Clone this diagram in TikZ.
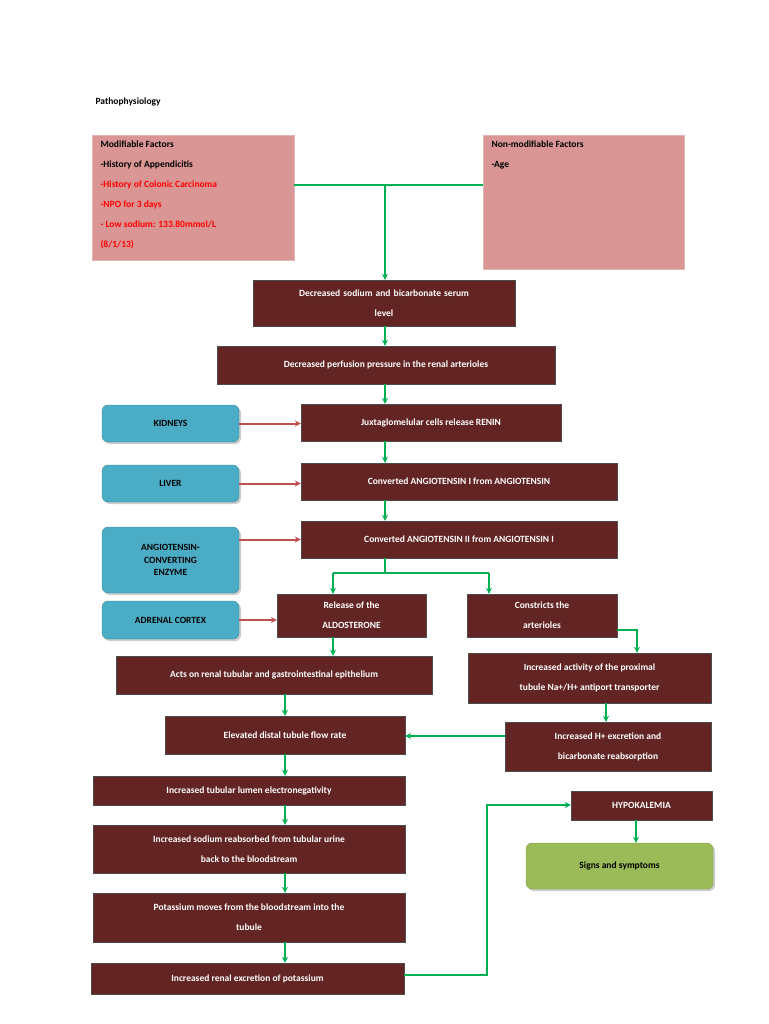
\documentclass[tikz,border=0pt]{standalone}
\usepackage{fontspec}
\setmainfont{Carlito}
\usetikzlibrary{arrows.meta,shadows}
\definecolor{dred}{HTML}{632523}
\definecolor{pinkf}{HTML}{D99694}
\definecolor{blu}{HTML}{4BACC6}
\definecolor{grn}{HTML}{00B050}
\definecolor{lgrn}{HTML}{9BBB59}
\definecolor{rarr}{HTML}{C0504D}
\begin{document}
\begin{tikzpicture}[x=1pt,y=-1pt,
 every node/.style={font=\fontsize{9.5}{12.5}\selectfont},
 dbox/.style={draw=black!70,fill=dred,text=white,font=\fontsize{9.5}{20}\selectfont\bfseries,align=center,inner sep=2pt},
 bbox/.style={draw=blu!80!black,fill=blu,rounded corners=6pt,align=center,font=\fontsize{9.5}{12.5}\selectfont\bfseries,minimum width=137,drop shadow={shadow xshift=2pt,shadow yshift=-2pt,opacity=0.4}},
 pbox/.style={draw=pinkf!70!white,fill=pinkf,align=left,anchor=north west,inner sep=0pt},
 g/.style={draw=grn,line width=2pt,-{Stealth[length=6pt,width=6pt]}},
 gl/.style={draw=grn,line width=2pt},
 r/.style={draw=rarr,line width=2pt,-{Stealth[length=6pt,width=6pt]}}]
\useasboundingbox (0,0) rectangle (768,1024);
\node[anchor=west,font=\fontsize{9.5}{12}\selectfont\bfseries] (title) at (92,102) {Pathophysiology};
\node[pbox,minimum width=202,minimum height=125] (mod) at (92,135) {};
\node[anchor=north west,align=left,font=\fontsize{9.5}{20}\selectfont\bfseries] (modt) at (97,137) {Modifiable Factors\\-History of Appendicitis\\\textcolor{red}{-History of Colonic Carcinoma}\\\textcolor{red}{-NPO for 3 days}\\\textcolor{red}{- Low sodium: 133.80mmol/L}\\\textcolor{red}{(8/1/13)}};
\node[pbox,minimum width=201,minimum height=134] (non) at (483,135) {};
\node[anchor=north west,align=left,font=\fontsize{9.5}{20}\selectfont\bfseries] (nont) at (488,137) {Non-modifiable Factors\\-Age};
\node[dbox,minimum width=262,minimum height=46,text width=240] (b1) at (384,303) {Decreased sodium and bicarbonate serum\\level};
\node[dbox,minimum width=338,minimum height=38] (b2) at (386,365) {Decreased perfusion pressure in the renal arterioles};
\node[dbox,minimum width=260,minimum height=37] (b3) at (431,422.5) {Juxtaglomelular cells release RENIN};
\node[dbox,minimum width=316,minimum height=37] (b4) at (459,481.5) {Converted ANGIOTENSIN I from ANGIOTENSIN};
\node[dbox,minimum width=316,minimum height=37] (b5) at (459,539.5) {Converted ANGIOTENSIN II from ANGIOTENSIN I};
\node[bbox,minimum height=37] (k) at (170.5,423.5) {KIDNEYS};
\node[bbox,minimum height=37] (l) at (170.5,483.5) {LIVER};
\node[bbox,minimum height=66] (ace) at (170.5,560) {ANGIOTENSIN-\\CONVERTING\\ENZYME};
\node[bbox,minimum height=38] (ad) at (170.5,620) {ADRENAL CORTEX};
\node[dbox,minimum width=149,minimum height=43] (b6) at (351.5,615.5) {Release of the\\ALDOSTERONE};
\node[dbox,minimum width=150,minimum height=43] (b7) at (542,615.5) {Constricts the\\arterioles};
\node[dbox,minimum width=243,minimum height=50] (b8) at (589.5,678) {Increased activity of the proximal\\tubule Na+/H+ antiport transporter};
\node[dbox,minimum width=206,minimum height=49] (b9) at (608,746.5) {Increased H+ excretion and\\bicarbonate reabsorption};
\node[dbox,minimum width=316,minimum height=38] (b10) at (274,675) {Acts on renal tubular and gastrointestinal epithelium};
\node[dbox,minimum width=240,minimum height=38] (b11) at (285,735) {Elevated distal tubule flow rate};
\node[dbox,minimum width=312,minimum height=29] (b12) at (249,790.5) {Increased tubular lumen electronegativity};
\node[dbox,minimum width=312,minimum height=48] (b13) at (249,849) {Increased sodium reabsorbed from tubular urine\\back to the bloodstream};
\node[dbox,minimum width=312,minimum height=49] (b14) at (249,917.5) {Potassium moves from the bloodstream into the\\tubule};
\node[dbox,minimum width=313,minimum height=31] (b15) at (247.5,978.5) {Increased renal excretion of potassium};
\node[dbox,minimum width=141,minimum height=29] (hk) at (641.5,805.5) {HYPOKALEMIA};
\node[draw=lgrn!80!black,fill=lgrn,rounded corners=6pt,minimum width=187,minimum height=46,font=\fontsize{9.5}{12.5}\selectfont\bfseries,drop shadow={shadow xshift=2pt,shadow yshift=-2pt,opacity=0.4}] (ss) at (619.5,866) {Signs and symptoms};
% connectors
\coordinate (j1) at (385,185);
\draw[gl] (mod.east |- j1) -- (non.west |- j1);
\draw[g] (j1) -- (b1.north -| j1);
\draw[g] (b1.south -| j1) -- (b2.north -| j1);
\draw[g] (b2.south -| j1) -- (b3.north -| j1);
\draw[g] (b3.south -| j1) -- (b4.north -| j1);
\draw[g] (b4.south -| j1) -- (b5.north -| j1);
\draw[r] (k) -- (b3.west |- k);
\draw[r] (l) -- (b4.west |- l);
\draw[r] (ace.east |- b5) -- (b5.west);
\draw[r] (ad) -- (b6.west |- ad);
\coordinate (s1) at (385,573);
\coordinate (sl) at (333,573);
\coordinate (sr) at (489,573);
\draw[gl] (b5.south -| s1) -- (s1);
\draw[gl] (sl) -- (sr);
\draw[g] (sl) -- (b6.north -| sl);
\draw[g] (sr) -- (b7.north -| sr);
\coordinate (c7) at (637,630);
\draw[g] (b7.east |- c7) -- (c7) -- (b8.north -| c7);
\draw[g] (b8.south -| 606,0) -- (b9.north -| 606,0);
\draw[g] (b9.west |- 0,736) -- (b11.east |- 0,736);
\draw[g] (b6.south -| 333,0) -- (b10.north -| 333,0);
\coordinate (x) at (285,0);
\draw[g] (b10.south -| x) -- (b11.north -| x);
\draw[g] (b11.south -| x) -- (b12.north -| x);
\draw[g] (b12.south -| x) -- (b13.north -| x);
\draw[g] (b13.south -| x) -- (b14.north -| x);
\draw[g] (b14.south -| x) -- (b15.north -| x);
\coordinate (c15) at (487,975);
\coordinate (c16) at (487,805);
\draw[g] (b15.east |- c15) -- (c15) -- (c16) -- (hk.west |- c16);
\draw[g] (hk.south -| 636,0) -- (ss.north -| 636,0);
\end{tikzpicture}
\end{document}
